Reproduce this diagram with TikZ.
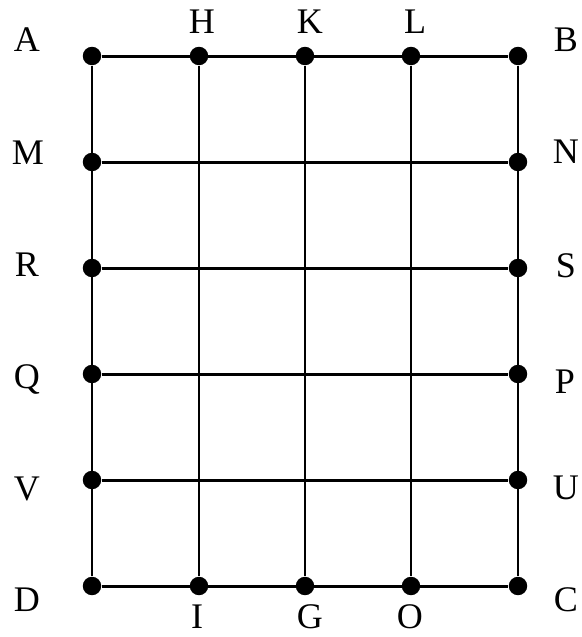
\documentclass[tikz,border=0pt]{standalone}
\usepackage{fontspec}
\setmainfont{Liberation Serif}
\usetikzlibrary{positioning}
\begin{document}
\begin{tikzpicture}[x=0.02cm, y=-0.02cm,
    dot/.style={circle, fill=black, inner sep=0pt, minimum size=10.5pt},
    lbl/.style={inner sep=0pt, font=\fontsize{20.5}{24}\selectfont},
    gridline/.style={line width=1.7pt},
    edgeline/.style={line width=1.2pt}]
\useasboundingbox (0,0) rectangle (582,637);
%
    \foreach \n/\x/\y in {A/92/56, H/199/56, K/305/56, L/411/56, B/518/56,
                          M/92/162, N/518/162, R/92/268, S/518/268,
                          Q/92/374, P/518/374, V/92/480, U/518/480,
                          D/92/586, I/199/586, G/305/586, O/411/586, C/518/586}
      \node[dot] (\n) at (\x,\y) {};
%
    \foreach \a/\b in {A/B, M/N, R/S, Q/P, V/U, D/C, H/I, K/G, L/O}
      \draw[gridline] (\a) -- (\b);
    \foreach \a/\b in {A/D, B/C}
      \draw[edgeline] (\a) -- (\b);
%
    \foreach \n/\x/\y in {A/27/40, H/202/22, K/310/22, L/415/22, B/566/40,
                          M/28/153, N/566/152, R/27/265, S/566/266,
                          Q/27/379, P/565/382, V/27/489, U/566/488,
                          D/27/600, C/566/600, I/197/617, G/310/617, O/410/617}
      \node[lbl] (l\n) at (\x,\y) {\n};
\end{tikzpicture}
\end{document}
